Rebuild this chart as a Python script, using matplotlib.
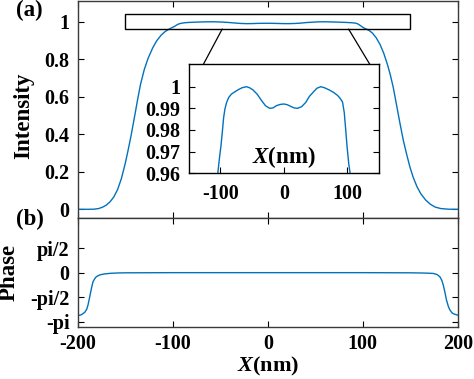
import numpy as np
import matplotlib
matplotlib.use('Agg')
import matplotlib.pyplot as plt
from matplotlib.patches import Rectangle, ConnectionPatch

plt.rcParams['font.family'] = ['Liberation Serif', 'DejaVu Serif']
plt.rcParams['font.weight'] = 'bold'
plt.rcParams['mathtext.fontset'] = 'custom'
plt.rcParams['mathtext.it'] = 'Liberation Serif:italic:bold'
plt.rcParams['mathtext.bf'] = 'Liberation Serif:bold'

# intensity profile
x_int = [-200, -190, -183, -178, -174, -170, -166, -162, -158, -154, -150, -147, -144,
         -142, -140, -137, -134, -130, -126, -121, -117, -112, -108, -104.5, -101.5,
         -99, -97, -95, -93, -90.5, -87, -82.6, -78, -72, -66, -59, -54, -48.7, -42,
         -35.5, -29, -22.4, -17, -12, -6, 0, 5, 10, 16, 21.5, 28, 34.5, 40, 47.7, 52,
         58, 64, 71.3, 78, 84.3, 88, 92.2, 95, 97.3, 99.5, 102, 104.2, 107, 110, 114,
         118, 122, 126, 129, 132, 135.5, 139, 142.5, 146, 149.5, 153, 157, 161, 166,
         171, 176, 182, 190, 200]
intensity = [0, 0, 0.0005, 0.004, 0.011, 0.022, 0.04, 0.066, 0.106, 0.165, 0.245, 0.315,
             0.39, 0.445, 0.50, 0.585, 0.665, 0.745, 0.805, 0.862, 0.898, 0.93, 0.948,
             0.959, 0.967, 0.973, 0.979, 0.9855, 0.9895, 0.9925, 0.995, 0.9966, 0.9975,
             0.9986, 0.9995, 1.0, 0.9995, 0.9985, 0.9965, 0.9937, 0.9912, 0.990, 0.9902,
             0.9912, 0.9918, 0.992, 0.9917, 0.991, 0.9902, 0.990, 0.9908, 0.9928, 0.9955,
             0.998, 0.9993, 1.0, 0.9995, 0.9985, 0.9974, 0.996, 0.9948, 0.993, 0.988, 0.980,
             0.972, 0.9645, 0.96, 0.952, 0.94, 0.915, 0.88, 0.832, 0.77, 0.715, 0.65,
             0.555, 0.46, 0.37, 0.295, 0.226, 0.17, 0.12, 0.083, 0.05, 0.027, 0.012,
             0.004, 0.0005, 0]

# phase profile
x_ph = [-200, -196, -192.6, -190.5, -189.2, -187.7, -186.3, -185, -183.9, -182, -180.4,
        -178, -176, -171.6, -165, -157.6, -150, -100, 0, 100, 150, 160, 167, 174, 178,
        181, 183, 184.6, 186.3, 188, 190, 191.6, 194, 196.9, 200]
phase = [-2.77, -2.70, -2.55, -2.35, -2.08, -1.65, -1.22, -0.85, -0.58, -0.38, -0.26,
         -0.18, -0.13, -0.08, -0.04, -0.02, -0.01, 0, 0, 0, -0.01, -0.02, -0.03, -0.05, -0.12,
         -0.26, -0.48, -0.79, -1.25, -1.76, -2.18, -2.40, -2.60, -2.68, -2.73]

blue = '#0072BD'
gray = '#3a3a3a'
tick_fs = 14.5
lab_fs = 16.5

fig = plt.figure(figsize=(4.74, 3.79), dpi=100)
ax1 = fig.add_axes([0.164, 0.425, 0.802, 0.572])
ax2 = fig.add_axes([0.164, 0.137, 0.802, 0.288])

for ax in (ax1, ax2):
    ax.tick_params(direction='in', top=True, right=True, length=4, width=0.8,
                   labelsize=tick_fs, colors='black', pad=6)
    for s in ax.spines.values():
        s.set_color(gray)
        s.set_linewidth(1.0)
    ax.set_xlim(-200, 200)
    ax.set_xticks([-200, -100, 0, 100, 200])

ax1.plot(x_int, intensity, color=blue, lw=1.0)
ax1.set_ylim(-0.046, 1.11)
ax1.set_yticks([0, 0.2, 0.4, 0.6, 0.8, 1])
ax1.set_yticklabels(['0', '0.2', '0.4', '0.6', '0.8', '1'])
ax1.tick_params(labelbottom=False)
ax1.set_ylabel('Intensity', fontsize=lab_fs, fontweight='bold')
ax1.yaxis.set_label_coords(-0.115, 0.47)
ax1.text(-0.163, 0.955, '(a)', transform=ax1.transAxes, fontsize=lab_fs,
         fontweight='bold', ha='left', va='center')

ax1.add_patch(Rectangle((-150, 0.961), 300, 0.078, fill=False,
                        edgecolor='black', lw=1.0, zorder=3))

ax2.plot(x_ph, phase, color=blue, lw=1.0)
ax2.set_ylim(-3.5, 3.52)
ax2.set_yticks([-np.pi, -np.pi / 2, 0, np.pi / 2])
ax2.set_yticklabels(['-pi', '-pi/2', '0', 'pi/2'])
ax2.set_xticklabels(['-200', '-100', '0', '100', '200'])
ax2.tick_params(axis='x', pad=5)
ax2.set_ylabel('Phase', fontsize=lab_fs, fontweight='bold')
ax2.yaxis.set_label_coords(-0.152, 0.5)
ax2.set_xlabel(r'$X$(nm)', fontsize=16, fontweight='bold', va='center')
ax2.xaxis.set_label_coords(0.5, -0.362)
ax2.text(-0.163, 0.99, '(b)', transform=ax2.transAxes, fontsize=lab_fs,
         fontweight='bold', ha='left', va='center')

# inset
axi = fig.add_axes([0.398, 0.543, 0.402, 0.287])
axi.plot(x_int, intensity, color=blue, lw=1.0)
axi.set_xlim(-150, 150)
axi.set_ylim(0.96, 1.0103)
axi.set_xticks([-100, 0, 100])
axi.set_xticklabels(['-100', '0', '100'])
axi.set_yticks([0.96, 0.97, 0.98, 0.99, 1.0])
axi.set_yticklabels(['0.96', '0.97', '0.98', '0.99', '1'])
axi.tick_params(direction='in', top=False, right=True, length=4, width=0.8,
                labelsize=tick_fs, pad=8)
axi.tick_params(axis='y', pad=6)
for s in axi.spines.values():
    s.set_color('black')
    s.set_linewidth(1.0)
axi.text(0.5, 0.15, r'$X$(nm)', transform=axi.transAxes, fontsize=lab_fs,
         fontweight='bold', ha='center', va='center')

for xa, fx in ((-48, 0.077), (85, 0.951)):
    con = ConnectionPatch(xyA=(xa, 0.961), coordsA=ax1.transData,
                          xyB=(fx, 1.0), coordsB=axi.transAxes,
                          color='black', lw=0.9)
    fig.add_artist(con)

fig.savefig('out.png', dpi=100)
